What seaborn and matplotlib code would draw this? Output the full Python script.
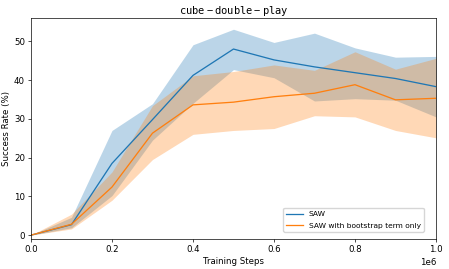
import numpy as np
import pandas as pd
import matplotlib
matplotlib.use("Agg")
import matplotlib.pyplot as plt
import seaborn as sns

# Training steps (x) and success rates
steps = [0, 100000, 200000, 300000, 400000, 500000, 600000, 700000, 800000, 900000, 1000000]

saw_mean = [0, 2.7, 18.5, 29.8, 41.2, 48.0, 45.2, 43.4, 41.9, 40.4, 38.3]
saw_upper = [0, 4.6, 27.0, 33.9, 49.1, 53.1, 49.7, 52.1, 48.3, 45.9, 46.1]
saw_lower = [0, 1.9, 10.2, 24.5, 34.0, 42.7, 40.6, 34.6, 35.2, 34.8, 30.5]

boot_mean = [0, 2.8, 12.4, 26.3, 33.6, 34.3, 35.7, 36.6, 38.8, 34.9, 35.3]
boot_upper = [0, 5.4, 16.3, 33.4, 41.1, 42.2, 43.9, 42.5, 47.3, 42.8, 45.6]
boot_lower = [0, 1.6, 9.0, 19.5, 26.0, 27.0, 27.5, 30.8, 30.5, 27.0, 25.1]

labels = ["SAW", "SAW with bootstrap term only"]

df = pd.DataFrame({
    "step": steps * 2,
    "rate": saw_mean + boot_mean,
    "method": [labels[0]] * len(steps) + [labels[1]] * len(steps),
})

s = 0.62  # the reference looks like a downscaled default-size figure
fig = plt.figure(figsize=(4.49, 2.69), dpi=100)
ax = fig.add_axes([0.069, 0.1115, 0.902, 0.8215])

palette = sns.color_palette("tab10")[:2]
sns.lineplot(data=df, x="step", y="rate", hue="method", palette=palette,
             ax=ax, linewidth=1.5 * s)

ax.fill_between(steps, saw_lower, saw_upper, color=palette[0], alpha=0.3, linewidth=0)
ax.fill_between(steps, boot_lower, boot_upper, color=palette[1], alpha=0.3, linewidth=0)

ax.set_xlim(0, 1e6)
ax.set_ylim(-1, 56)
ax.set_yticks([0, 10, 20, 30, 40, 50])
ax.tick_params(labelsize=10 * s, length=3.5 * s, width=0.8 * s, pad=3.5 * s)
for sp in ax.spines.values():
    sp.set_linewidth(0.8 * s)
ax.xaxis.get_offset_text().set_fontsize(10 * s)
ax.set_xlabel("Training Steps", fontsize=10 * s, labelpad=3 * s)
ax.set_ylabel("Success Rate (%)", fontsize=10 * s, labelpad=4 * s)
ax.set_title(r"$\mathtt{cube-double-play}$", fontsize=12 * s, pad=4 * s)

leg = ax.legend(loc="lower right", bbox_to_anchor=(0.970, 0.033), borderaxespad=0,
                fontsize=5.4, handlelength=2.2, labelspacing=0.7, frameon=True)
leg.set_title(None)

fig.savefig("out.png", dpi=100)
